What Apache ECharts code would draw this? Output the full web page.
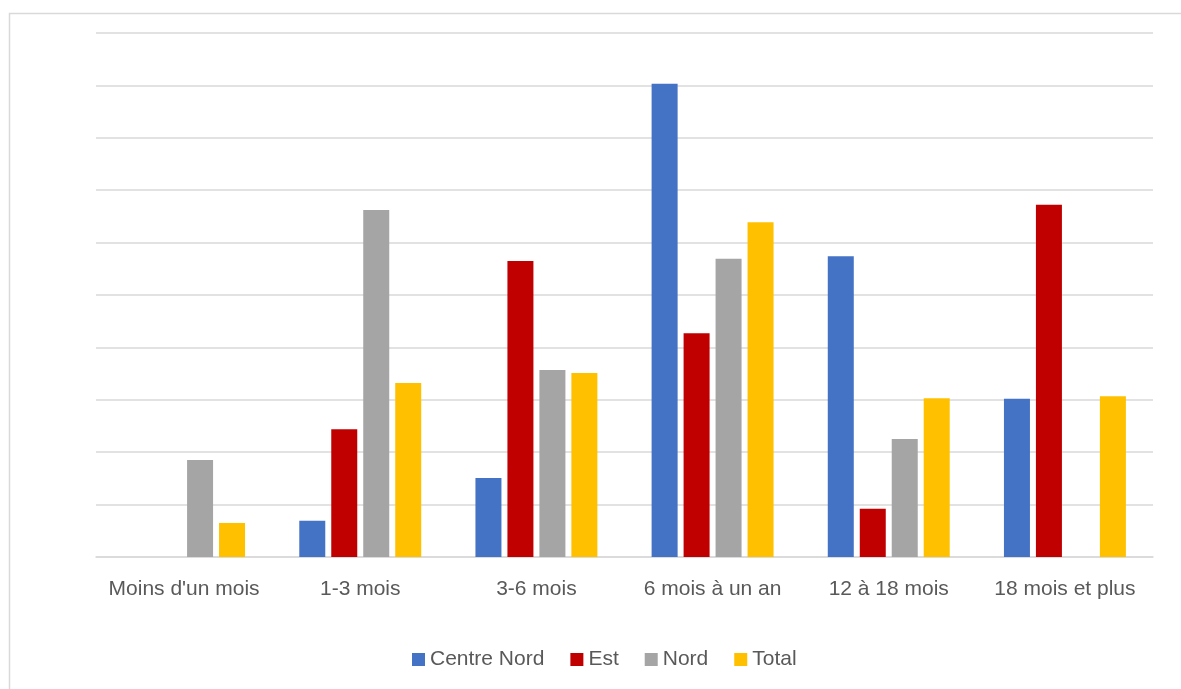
<!DOCTYPE html>
<html><head><meta charset="utf-8">
<script src="https://cdn.jsdelivr.net/npm/echarts@6/dist/echarts.min.js"></script>
<style>html,body{margin:0;padding:0;background:#fff}#c{width:1181px;height:689px}</style>
</head><body><div id="c"></div>
<script>
const categories = ["Moins d'un mois", "1-3 mois", "3-6 mois", "6 mois à un an", "12 à 18 mois", "18 mois et plus"];
const centreNord = [0, 0.69, 1.51, 9.03, 5.74, 3.02];
const est = [0, 2.44, 5.65, 4.27, 0.92, 6.72];
const nord = [1.85, 6.62, 3.57, 5.69, 2.25, 0];
const total = [0.65, 3.32, 3.51, 6.39, 3.03, 3.07];
const FONT = "Liberation Sans";
const chart = echarts.init(document.getElementById('c'));
const mk = (name, data, color) => ({name, type:'bar', data, barWidth:26, barGap:'23%', itemStyle:{color}});
chart.setOption({
  animation:false,
  textStyle:{fontFamily:FONT},
  graphic:[{type:'rect', shape:{x:9.5,y:13.5,width:1200,height:700}, style:{fill:'none', stroke:'#d9d9d9', lineWidth:1.5}, silent:true}],
  grid:{left:96, right:28, top:33, bottom:132},
  legend:{bottom:14, left:407, itemWidth:13, itemHeight:13, itemGap:26, icon:'rect',
    textStyle:{fontFamily:FONT, fontSize:21, color:'#595959'},
    data:['Centre Nord','Est','Nord','Total']},
  xAxis:{type:'category', data:categories, axisTick:{show:false},
    axisLine:{lineStyle:{color:'#d9d9d9', width:1.5}},
    axisLabel:{fontFamily:FONT, fontSize:21, color:'#595959', margin:22, interval:0}},
  yAxis:{type:'value', min:0, max:10, interval:1, axisLabel:{show:false}, axisLine:{show:false}, axisTick:{show:false},
    splitLine:{lineStyle:{color:'#d9d9d9', width:1.5}}},
  series:[mk('Centre Nord', centreNord, '#4472c4'), mk('Est', est, '#c00000'), mk('Nord', nord, '#a5a5a5'), mk('Total', total, '#ffc000')]
});
</script></body></html>
